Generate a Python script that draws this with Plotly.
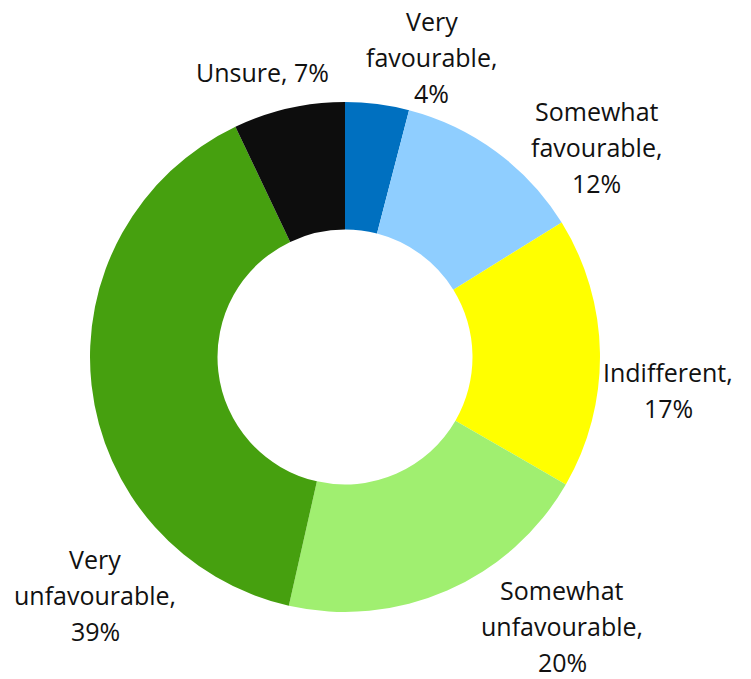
import math
import plotly.graph_objects as go

categories = ["Very favourable", "Somewhat favourable", "Indifferent",
              "Somewhat unfavourable", "Very unfavourable", "Unsure"]
label_lines = [["Very", "favourable,"], ["Somewhat", "favourable,"], ["Indifferent,"],
               ["Somewhat", "unfavourable,"], ["Very", "unfavourable,"], ["Unsure,"]]
values = [4, 12, 17, 20, 39, 7]
colors = ["#0070C0", "#8FCEFF", "#FFFF00", "#A0EF70", "#46A00F", "#0D0D0D"]

# label placement styling: (angle nudge in degrees, distance from centre in px)
label_nudge = [(8.9, 312), (13.8, 328), (6.7, 325), (-15.3, 346), (-37.2, 345), (-3.5, 297)]
same_line = [False, False, False, False, False, True]
LINE_H = 36

W, H = 751, 679
cx, cy, R = 345, 357, 255

fig = go.Figure(go.Pie(
    labels=categories, values=values, hole=0.5, sort=False, direction="clockwise",
    rotation=0, marker=dict(colors=colors, line=dict(width=0)),
    textinfo="none", hoverinfo="label+percent", showlegend=False,
    domain=dict(x=[(cx - R) / W, (cx + R) / W], y=[1 - (cy + R) / H, 1 - (cy - R) / H]),
))

total = sum(values)
cum = 0
ann = []
for i, v in enumerate(values):
    mid = (cum + v / 2) / total * 360
    cum += v
    ang = math.radians(mid + label_nudge[i][0])
    d = label_nudge[i][1]
    px = cx + d * math.sin(ang)
    py = cy - d * math.cos(ang)
    pct = f"{round(v / total * 100)}%"
    lines = list(label_lines[i])
    if same_line[i]:
        lines[-1] = lines[-1] + " " + pct
    else:
        lines.append(pct)
    n = len(lines)
    for k, t in enumerate(lines):
        ly = py + (k - (n - 1) / 2) * LINE_H
        ann.append(dict(x=px / W, y=1 - ly / H, xref="paper", yref="paper",
                        text=t, showarrow=False, borderpad=0,
                        xanchor="center", yanchor="middle", align="center",
                        font=dict(family="Open Sans", size=25, color="#111111")))

fig.update_layout(width=W, height=H, margin=dict(l=0, r=0, t=0, b=0),
                  paper_bgcolor="white", plot_bgcolor="white", annotations=ann)
fig.write_html("out.html", config={"displayModeBar": False})
with open("out.html", encoding="utf-8") as f:
    html = f.read()
html = html.replace("<head>", "<head><style>html,body{margin:0;padding:0;}</style>", 1)
with open("out.html", "w", encoding="utf-8") as f:
    f.write(html)
